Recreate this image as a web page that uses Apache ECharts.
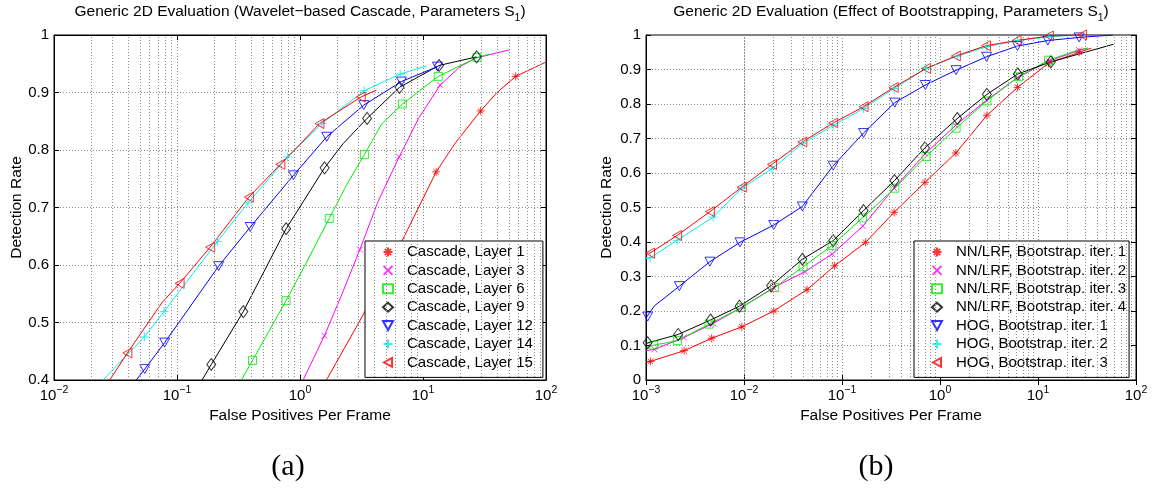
<!DOCTYPE html>
<html>
<head>
<meta charset="utf-8">
<script src="https://cdn.jsdelivr.net/npm/echarts@6/dist/echarts.min.js"></script>
<style>
  html, body { margin: 0; padding: 0; background: #fff; }
  #main { width: 1153px; height: 490px; }
</style>
</head>
<body>
<div id="main"></div>
<script>
const FONT = 'Liberation Sans, Arial, Helvetica, sans-serif';

// === Panel (a): wavelet-based cascade, [fppf, detection rate] ===
const layer1  = [[1.64,0.40],[3.2,0.51],[4.6,0.575],[6.76,0.642],[12.8,0.762],[18,0.81],[29.4,0.868],[40,0.90],[56.7,0.928],[100,0.953]];
const layer3  = [[1.06,0.40],[1.58,0.477],[2.2,0.55],[3.07,0.627],[4.3,0.71],[6.4,0.788],[9.2,0.855],[13.8,0.913],[20,0.945],[27,0.96],[50,0.974]];
const layer6  = [[0.334,0.40],[0.411,0.434],[0.771,0.538],[1.1,0.60],[1.73,0.681],[2.4,0.74],[3.34,0.792],[4.6,0.845],[6.8,0.880],[13.3,0.928],[27.5,0.961],[35,0.967]];
const layer9  = [[0.16,0.40],[0.19,0.427],[0.346,0.519],[0.771,0.663],[1.585,0.769],[2.24,0.811],[3.51,0.855],[6.44,0.909],[13.5,0.947],[27.3,0.962]];
const layer12 = [[0.0467,0.40],[0.0547,0.419],[0.0794,0.465],[0.218,0.598],[0.394,0.666],[0.885,0.756],[1.65,0.823],[3.3,0.878],[6.67,0.919],[13.1,0.945]];
const layer14 = [[0.025,0.40],[0.0543,0.475],[0.0784,0.519],[0.213,0.641],[0.378,0.708],[0.794,0.788],[1.51,0.846],[3.32,0.903],[6.53,0.932],[10.6,0.946]];
const layer15 = [[0.0284,0.40],[0.0395,0.447],[0.0757,0.535],[0.105,0.568],[0.186,0.631],[0.384,0.718],[0.692,0.775],[1.0,0.81],[1.44,0.846],[3.12,0.892],[4.17,0.904]];

// === Panel (b): effect of bootstrapping ===
const nn1  = [[0.001,0.052],[0.00111,0.054],[0.00245,0.085],[0.00468,0.121],[0.0095,0.154],[0.0201,0.200],[0.044,0.262],[0.0841,0.331],[0.174,0.399],[0.34,0.486],[0.702,0.573],[1.45,0.658],[3.01,0.767],[6.17,0.848],[12.8,0.918],[26.3,0.950],[35,0.962]];
const nn2  = [[0.001,0.085],[0.00122,0.089],[0.00243,0.123],[0.00484,0.164],[0.00966,0.212],[0.0201,0.268],[0.0419,0.314],[0.0794,0.365],[0.163,0.446],[0.34,0.556],[0.708,0.656],[1.44,0.738],[2.99,0.811],[6.22,0.877],[12.9,0.924],[26.3,0.956],[32,0.962]];
const nn3  = [[0.001,0.095],[0.0012,0.101],[0.0021,0.114],[0.0044,0.162],[0.00942,0.210],[0.0205,0.268],[0.0401,0.328],[0.0792,0.390],[0.162,0.470],[0.346,0.556],[0.721,0.648],[1.46,0.730],[3.01,0.809],[6.32,0.879],[12.8,0.927],[25,0.955],[32,0.962]];
const nn4  = [[0.001,0.106],[0.00104,0.108],[0.00213,0.132],[0.00456,0.174],[0.009,0.214],[0.0189,0.273],[0.0394,0.350],[0.0813,0.404],[0.166,0.491],[0.343,0.578],[0.702,0.673],[1.50,0.758],[3.01,0.828],[6.22,0.887],[13.5,0.922],[58.6,0.973]];
const hog1 = [[0.001,0.18],[0.00104,0.184],[0.00122,0.215],[0.00219,0.272],[0.00449,0.343],[0.0091,0.399],[0.0201,0.449],[0.0394,0.503],[0.0813,0.621],[0.166,0.716],[0.346,0.804],[0.708,0.855],[1.46,0.898],[2.99,0.937],[6.17,0.968],[12.6,0.984],[26.3,0.993],[58.6,1.0]];
const hog2 = [[0.001,0.352],[0.0011,0.354],[0.00208,0.405],[0.00484,0.472],[0.0095,0.556],[0.0193,0.612],[0.0394,0.685],[0.0813,0.738],[0.166,0.787],[0.34,0.845],[0.72,0.903],[1.5,0.939],[3.0,0.966],[6.2,0.984],[12.9,0.995],[26.3,1.0]];
const hog3 = [[0.001,0.368],[0.0011,0.368],[0.00208,0.419],[0.00449,0.488],[0.0095,0.559],[0.0193,0.625],[0.0394,0.690],[0.0813,0.745],[0.166,0.792],[0.337,0.848],[0.721,0.903],[1.45,0.939],[2.95,0.969],[6.05,0.984],[12.9,0.997],[28.1,1.0]];

const leftYTicks  = [0.4, 1, 0.1];   // min, max, step
const rightYTicks = [0, 1, 0.1];

// marker shapes (matlab style)
const STAR  = 'path://M5,0L5,10M0,5L10,5M1.5,1.5L8.5,8.5M8.5,1.5L1.5,8.5';
const CROSS = 'path://M0,0L10,10M10,0L0,10';
const PLUS  = 'path://M5,0L5,10M0,5L10,5';
const TRI_DOWN = 'path://M0,0L10,0L5,9Z';
const TRI_LEFT = 'path://M9,0L9,10L0,5Z';

const span = (a, b) => { let r = []; for (let i = a; i <= b; i++) r.push(i); return r; };

const leftDefs = [
  { name: 'Cascade, Layer 1',  data: layer1,  marks: [4, 6, 8],            color: '#ff0000', symbol: STAR,      size: 8 },
  { name: 'Cascade, Layer 3',  data: layer3,  marks: [1, 3, 5, 7],         color: '#ff00ff', symbol: CROSS,     size: 6 },
  { name: 'Cascade, Layer 6',  data: layer6,  marks: [1, 2, 4, 6, 8, 9, 10], color: '#00ee00', symbol: 'rect',  size: 8 },
  { name: 'Cascade, Layer 9',  data: layer9,  marks: [1, 2, 3, 4, 6, 7, 8, 9], color: '#000000', symbol: 'diamond', size: [9, 12] },
  { name: 'Cascade, Layer 12', data: layer12, marks: span(1, 9),           color: '#0000ff', symbol: TRI_DOWN,  size: 10 },
  { name: 'Cascade, Layer 14', data: layer14, marks: span(1, 8),           color: '#00eeee', symbol: PLUS,      size: 9 },
  { name: 'Cascade, Layer 15', data: layer15, marks: [1, 3, 4, 5, 6, 8, 9], color: '#ff0000', symbol: TRI_LEFT, size: 10 }
];
const rightDefs = [
  { name: 'NN/LRF, Bootstrap. iter. 1', data: nn1,  marks: span(1, 15), color: '#ff0000', symbol: STAR,      size: 8 },
  { name: 'NN/LRF, Bootstrap. iter. 2', data: nn2,  marks: span(1, 15), color: '#ff00ff', symbol: CROSS,     size: 6 },
  { name: 'NN/LRF, Bootstrap. iter. 3', data: nn3,  marks: span(1, 14), color: '#00ee00', symbol: 'rect',    size: 8 },
  { name: 'NN/LRF, Bootstrap. iter. 4', data: nn4,  marks: span(1, 14), color: '#000000', symbol: 'diamond', size: [9, 12] },
  { name: 'HOG, Bootstrap. iter. 1',    data: hog1, marks: [1].concat(span(3, 16)), color: '#0000ff', symbol: TRI_DOWN, size: 10 },
  { name: 'HOG, Bootstrap. iter. 2',    data: hog2, marks: span(1, 14), color: '#00eeee', symbol: PLUS,      size: 9 },
  { name: 'HOG, Bootstrap. iter. 3',    data: hog3, marks: span(1, 15), color: '#ff0000', symbol: TRI_LEFT,  size: 10 }
];

function buildSeries(defs, axis) {
  const out = [];
  defs.forEach(d => {
    out.push({
      type: 'line', name: d.name + ' (curve)', data: d.data,
      xAxisIndex: axis, yAxisIndex: axis, showSymbol: false, clip: true,
      lineStyle: { color: d.color, width: 1 }, itemStyle: { color: d.color }, z: 3
    });
    out.push({
      type: 'scatter', name: d.name, data: d.marks.map(i => d.data[i]),
      xAxisIndex: axis, yAxisIndex: axis, symbol: d.symbol, symbolSize: d.size,
      symbolKeepAspect: true, clip: true,
      itemStyle: { color: 'rgba(255,255,255,0)', borderColor: d.color, borderWidth: 1 }, z: 4
    });
  });
  return out;
}

// minor grid (2..9 within each decade)
function minorLines(lo, hi) {
  const v = [];
  for (let e = lo; e < hi; e++) for (let k = 2; k <= 9; k++) v.push({ xAxis: k * Math.pow(10, e) });
  return v;
}
const gridLine = { color: '#8a8a8a', type: [1, 2], width: 1 };
function minorSeries(axis, lo, hi) {
  return {
    type: 'line', name: 'minor' + axis, data: [], xAxisIndex: axis, yAxisIndex: axis, z: 1,
    markLine: { silent: true, symbol: 'none', label: { show: false }, lineStyle: gridLine, data: minorLines(lo, hi), animation: false }
  };
}

function xLog(grid, min, max, top) {
  return {
    type: 'log', logBase: 10, gridIndex: grid, min: min, max: max, position: top ? 'top' : 'bottom',
    axisLine: { lineStyle: { color: '#000', width: 1 } },
    axisTick: { inside: true, length: 5, lineStyle: { color: '#000' } },
    splitLine: { show: !top, lineStyle: gridLine },
    axisLabel: top ? { show: false } : {
      margin: 5, color: '#000',
      formatter: v => '{b|10}{e|' + String(Math.round(Math.log10(v))).replace('-', '−') + '}',
      rich: {
        b: { fontSize: 15, fontFamily: FONT, color: '#000', lineHeight: 18, verticalAlign: 'bottom' },
        e: { fontSize: 10.5, fontFamily: FONT, color: '#000', lineHeight: 8, verticalAlign: 'top' }
      }
    },
    name: top ? '' : 'False Positives Per Frame', nameLocation: 'middle', nameGap: 24,
    nameTextStyle: { fontSize: 15.5, fontFamily: FONT, color: '#000', verticalAlign: 'top' }
  };
}
function yVal(grid, ticks, right, gap) {
  return {
    type: 'value', gridIndex: grid, min: ticks[0], max: ticks[1], interval: ticks[2], position: right ? 'right' : 'left',
    axisLine: { show: true, lineStyle: { color: '#000', width: 1 } },
    axisTick: { show: true, inside: true, length: 5, lineStyle: { color: '#000' } },
    splitLine: { show: !right, lineStyle: gridLine },
    axisLabel: right ? { show: false } : { margin: 5, fontSize: 15, fontFamily: FONT, color: '#000' },
    name: right ? '' : 'Detection Rate', nameLocation: 'middle', nameGap: gap,
    nameTextStyle: { fontSize: 15.5, fontFamily: FONT, color: '#000' }
  };
}

function legendFor(defs, left, padRight) {
  return {
    data: defs.map(d => d.name),
    orient: 'vertical', left: left, top: 241, selectedMode: false,
    itemWidth: 10, itemHeight: 9, itemGap: 2.4, padding: [3, padRight, 7, 17],
    symbolKeepAspect: true,
    backgroundColor: '#fff', borderColor: '#000', borderWidth: 1, borderRadius: 0,
    textStyle: { fontSize: 15, fontFamily: FONT, color: '#000', lineHeight: 16, padding: [0, 0, 0, 9] }
  };
}

function titleText(x, text) {
  return {
    type: 'text', x: x, y: 4, z: 10,
    style: {
      text: '{t|' + text + '}{s|1}{t|)}', align: 'center', verticalAlign: 'top',
      rich: {
        t: { fontSize: 15.5, fontFamily: FONT, fill: '#000', lineHeight: 16, verticalAlign: 'top' },
        s: { fontSize: 10.5, fontFamily: FONT, fill: '#000', lineHeight: 20, verticalAlign: 'bottom' }
      }
    }
  };
}

const chart = echarts.init(document.getElementById('main'), null, { renderer: 'canvas' });
chart.setOption({
  animation: false,
  backgroundColor: '#fff',
  grid: [
    { left: 54, top: 35, width: 492, height: 345, show: true, borderColor: '#000', borderWidth: 1 },
    { left: 646, top: 35, width: 490, height: 345, show: true, borderColor: '#000', borderWidth: 1 }
  ],
  xAxis: [xLog(0, 0.01, 100, false), xLog(1, 0.001, 100, false), xLog(0, 0.01, 100, true), xLog(1, 0.001, 100, true)],
  yAxis: [yVal(0, leftYTicks, false, 29), yVal(1, rightYTicks, false, 31), yVal(0, leftYTicks, true, 0), yVal(1, rightYTicks, true, 0)],
  legend: [legendFor(leftDefs, 365, 10), legendFor(rightDefs, 914, 3)],
  series: [minorSeries(0, -2, 2), minorSeries(1, -3, 2)]
    .concat(buildSeries(leftDefs, 0))
    .concat(buildSeries(rightDefs, 1)),
  graphic: [
    titleText(300, 'Generic 2D Evaluation (Wavelet−based Cascade, Parameters S'),
    titleText(891, 'Generic 2D Evaluation (Effect of Bootstrapping, Parameters S'),
    { type: 'text', x: 288, y: 467, style: { text: '(a)', fontSize: 30, fontFamily: 'Liberation Serif, Times New Roman, serif', fill: '#000', align: 'center', verticalAlign: 'middle' } },
    { type: 'text', x: 876, y: 467, style: { text: '(b)', fontSize: 30, fontFamily: 'Liberation Serif, Times New Roman, serif', fill: '#000', align: 'center', verticalAlign: 'middle' } }
  ]
});
</script>
</body>
</html>
